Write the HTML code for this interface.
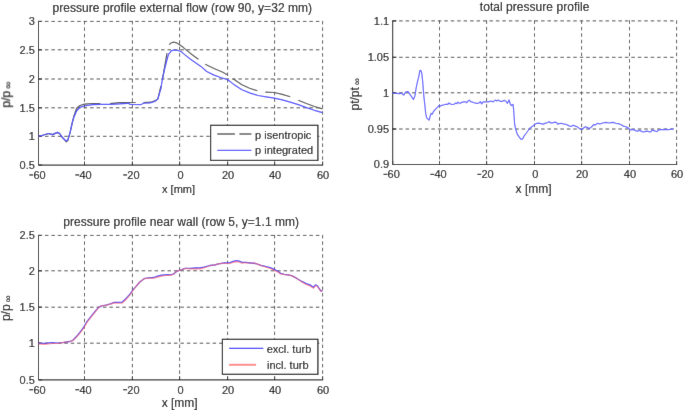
<!DOCTYPE html>
<html><head><meta charset="utf-8"><style>
html,body{margin:0;padding:0;background:#fff;}
svg{display:block;will-change:transform;}
.t{font-family:"Liberation Sans", sans-serif;font-size:11px;fill:#000;stroke:#000;stroke-width:0.12px;}
.ti{font-family:"Liberation Sans", sans-serif;font-size:12px;fill:#000;stroke:#000;stroke-width:0.12px;}
.yl{font-family:"Liberation Sans", sans-serif;font-size:12px;fill:#000;stroke:#000;stroke-width:0.12px;}
.g{stroke:#4a4a4a;stroke-width:1;stroke-dasharray:3.5 2.95;fill:none;}
.a{stroke:#000;stroke-width:1;fill:none;}
</style></head><body>
<svg width="685" height="410" viewBox="0 0 685 410">
<defs><filter id="bl" x="0" y="0" width="685" height="410" filterUnits="userSpaceOnUse"><feConvolveMatrix order="3" kernelMatrix="0.0049 0.0602 0.0049 0.0602 0.7396 0.0602 0.0049 0.0602 0.0049" edgeMode="duplicate"/></filter></defs>
<g filter="url(#bl)">
<rect width="685" height="410" fill="#fff"/>
<line x1="84.5" y1="20.9" x2="84.5" y2="165.1" class="g"/>
<line x1="132.4" y1="20.9" x2="132.4" y2="165.1" class="g"/>
<line x1="179.6" y1="20.9" x2="179.6" y2="165.1" class="g"/>
<line x1="227.6" y1="20.9" x2="227.6" y2="165.1" class="g"/>
<line x1="274.6" y1="20.9" x2="274.6" y2="165.1" class="g"/>
<line x1="322.6" y1="20.9" x2="322.6" y2="165.1" class="g"/>
<line x1="38.5" y1="136.3" x2="322.6" y2="136.3" class="g"/>
<line x1="38.5" y1="107.8" x2="322.6" y2="107.8" class="g"/>
<line x1="38.5" y1="79" x2="322.6" y2="79" class="g"/>
<line x1="38.5" y1="49.8" x2="322.6" y2="49.8" class="g"/>
<line x1="38.5" y1="21.4" x2="322.6" y2="21.4" class="g"/>
<line x1="38.5" y1="165.1" x2="38.5" y2="161.5" class="a"/>
<line x1="84.5" y1="165.1" x2="84.5" y2="161.5" class="a"/>
<line x1="132.4" y1="165.1" x2="132.4" y2="161.5" class="a"/>
<line x1="179.6" y1="165.1" x2="179.6" y2="161.5" class="a"/>
<line x1="227.6" y1="165.1" x2="227.6" y2="161.5" class="a"/>
<line x1="274.6" y1="165.1" x2="274.6" y2="161.5" class="a"/>
<line x1="322.6" y1="165.1" x2="322.6" y2="161.5" class="a"/>
<line x1="38.5" y1="165.1" x2="42.1" y2="165.1" class="a"/>
<line x1="38.5" y1="136.3" x2="42.1" y2="136.3" class="a"/>
<line x1="38.5" y1="107.8" x2="42.1" y2="107.8" class="a"/>
<line x1="38.5" y1="79" x2="42.1" y2="79" class="a"/>
<line x1="38.5" y1="49.8" x2="42.1" y2="49.8" class="a"/>
<line x1="38.5" y1="21.4" x2="42.1" y2="21.4" class="a"/>
<path d="M38.5 20.9V165.1H323.1" class="a"/>
<text x="45.65" y="178.9" text-anchor="end" class="t">60</text>
<rect x="29.3" y="174.4" width="3.9" height="1.1" fill="#000"/>
<text x="91.65" y="178.9" text-anchor="end" class="t">40</text>
<rect x="75.3" y="174.4" width="3.9" height="1.1" fill="#000"/>
<text x="139.55" y="178.9" text-anchor="end" class="t">20</text>
<rect x="123.2" y="174.4" width="3.9" height="1.1" fill="#000"/>
<text x="180.5" y="178.9" text-anchor="middle" class="t">0</text>
<text x="228" y="178.9" text-anchor="middle" class="t">20</text>
<text x="275" y="178.9" text-anchor="middle" class="t">40</text>
<text x="323" y="178.9" text-anchor="middle" class="t">60</text>
<text x="34.9" y="168.8" text-anchor="end" class="t">0.5</text>
<text x="34.9" y="140" text-anchor="end" class="t">1</text>
<text x="34.9" y="111.5" text-anchor="end" class="t">1.5</text>
<text x="34.9" y="82.7" text-anchor="end" class="t">2</text>
<text x="34.9" y="53.5" text-anchor="end" class="t">2.5</text>
<text x="34.9" y="25.1" text-anchor="end" class="t">3</text>
<text x="178.55" y="193.1" text-anchor="middle" class="t" style="font-size:11px">x [mm]</text>
<text x="52.5" y="11.8" textLength="259.6" lengthAdjust="spacing" class="ti">pressure profile external flow (row 90, y=32 mm)</text>
<polyline points="38.5,136.2 42.6,135.3 48.6,133.5 52.5,134.6 57.4,132.4 59.6,133.5 62.3,137.3 66.4,141.8 67.8,140.3 70,132.9 72.2,123 73.8,116.5 76.6,108.2 79.9,105.5 84.6,104.2 92.5,103.5 100.4,103.5 110,103.6 119.7,102.7 127.5,102.7 135.7,102.5 143.4,102.5 151.4,102.2 155.8,100.4 158,98.6 160,90 161,86 162.6,78.6 167,53.2 169.2,44.6 171,43 173,42.2 176,42.6 179.6,44.8 183.5,47.6 187,50.6 192.5,55 198.4,59.3 205.2,64.2 214,68.5 222.8,72.2 227.2,74.7 233.1,78.8 241.9,84.7 249.6,88.2 257.4,90.8 265.4,92.1 274.4,92.5 282.2,94.4 290.3,96.8 298.3,100.2 306.4,103.5 314.4,106.5 322.5,108.9" fill="none" stroke="#505050" stroke-width="1.2" stroke-dasharray="93.43 9.60 25.74 7.70 28.55 7.57 25.78 8.88 35.56 8.38 24.40 7.18 27.27 8.10 25.49 8.69 10000.00 0.00" stroke-linejoin="round"/>
<polyline points="38.5,136.2 42.6,135.3 48.6,133.5 52.5,134.6 57.4,132.4 59.6,133.5 62.3,137.3 66.2,141.1 67.8,140 70,132.9 72.2,123 73.8,117.5 76.6,111 79.9,107.3 84.3,106 92.5,104.6 101.3,104.3 110,104.3 119.7,103.9 127.5,103.4 128.4,103.1 130,104.5 132.8,104.5 140.5,104.7 143.7,103.2 150,102.9 154.8,101.5 157.8,99 159.6,92.9 160.9,88.7 162.4,79 164.4,70 166.5,61.5 168.5,54.4 171.6,50.7 174.6,49.9 177.7,50.5 180.7,51.3 184.4,54.4 190.5,59.3 196.6,63.5 200.9,66.4 206.7,71.5 214,75.1 221.4,77.8 227.5,79.5 233.1,83.9 241.9,89.8 250.3,93.1 258,95.5 266.1,96.8 274.4,98.2 282.2,99.8 290.3,102.2 298.3,104.6 306.4,107.6 314.4,110.3 322.5,112.7" fill="none" stroke="#4848ff" stroke-width="1.2" stroke-linejoin="round"/>
<rect x="210.6" y="125.3" width="107.3" height="35.1" fill="#fff" stroke="#000" stroke-width="1.15"/>
<line x1="217.3" y1="133.9" x2="251.4" y2="133.9" stroke="#848484" stroke-width="2" stroke-dasharray="17.6 4.5"/>
<text x="255.1" y="138.6" class="t">p isentropic</text>
<line x1="217.3" y1="150.3" x2="251.4" y2="150.3" stroke="#5050ff" stroke-width="1.2"/>
<text x="255.1" y="154.4" class="t">p integrated</text>
<text transform="translate(10.2 107.6) rotate(-90)" class="yl">p/p<tspan font-size="9.5" dx="2.2" dy="1.2">&#8734;</tspan></text>
<line x1="439.5" y1="20.4" x2="439.5" y2="164.5" class="g"/>
<line x1="486.6" y1="20.4" x2="486.6" y2="164.5" class="g"/>
<line x1="534.5" y1="20.4" x2="534.5" y2="164.5" class="g"/>
<line x1="581.6" y1="20.4" x2="581.6" y2="164.5" class="g"/>
<line x1="629.5" y1="20.4" x2="629.5" y2="164.5" class="g"/>
<line x1="676.6" y1="20.4" x2="676.6" y2="164.5" class="g"/>
<line x1="392.7" y1="129" x2="676.6" y2="129" class="g"/>
<line x1="392.7" y1="92.8" x2="676.6" y2="92.8" class="g"/>
<line x1="392.7" y1="57.3" x2="676.6" y2="57.3" class="g"/>
<line x1="392.7" y1="20.9" x2="676.6" y2="20.9" class="g"/>
<line x1="392.7" y1="164.5" x2="392.7" y2="160.9" class="a"/>
<line x1="439.5" y1="164.5" x2="439.5" y2="160.9" class="a"/>
<line x1="486.6" y1="164.5" x2="486.6" y2="160.9" class="a"/>
<line x1="534.5" y1="164.5" x2="534.5" y2="160.9" class="a"/>
<line x1="581.6" y1="164.5" x2="581.6" y2="160.9" class="a"/>
<line x1="629.5" y1="164.5" x2="629.5" y2="160.9" class="a"/>
<line x1="676.6" y1="164.5" x2="676.6" y2="160.9" class="a"/>
<line x1="392.7" y1="164.5" x2="396.3" y2="164.5" class="a"/>
<line x1="392.7" y1="129" x2="396.3" y2="129" class="a"/>
<line x1="392.7" y1="92.8" x2="396.3" y2="92.8" class="a"/>
<line x1="392.7" y1="57.3" x2="396.3" y2="57.3" class="a"/>
<line x1="392.7" y1="20.9" x2="396.3" y2="20.9" class="a"/>
<path d="M392.7 20.4V164.5H677.1" class="a"/>
<text x="399.85" y="178.3" text-anchor="end" class="t">60</text>
<rect x="383.5" y="173.8" width="3.9" height="1.1" fill="#000"/>
<text x="446.65" y="178.3" text-anchor="end" class="t">40</text>
<rect x="430.3" y="173.8" width="3.9" height="1.1" fill="#000"/>
<text x="493.75" y="178.3" text-anchor="end" class="t">20</text>
<rect x="477.4" y="173.8" width="3.9" height="1.1" fill="#000"/>
<text x="535.4" y="178.3" text-anchor="middle" class="t">0</text>
<text x="582" y="178.3" text-anchor="middle" class="t">20</text>
<text x="629.9" y="178.3" text-anchor="middle" class="t">40</text>
<text x="677" y="178.3" text-anchor="middle" class="t">60</text>
<text x="389.1" y="168.2" text-anchor="end" class="t">0.9</text>
<text x="389.1" y="132.7" text-anchor="end" class="t">0.95</text>
<text x="389.1" y="96.5" text-anchor="end" class="t">1</text>
<text x="389.1" y="61" text-anchor="end" class="t">1.05</text>
<text x="389.1" y="24.6" text-anchor="end" class="t">1.1</text>
<text x="533.55" y="192.6" text-anchor="middle" class="t" style="font-size:12px">x [mm]</text>
<text x="479.8" y="11.3" textLength="109.6" lengthAdjust="spacing" class="ti">total pressure profile</text>
<polyline points="392.4,93.2 395.9,93.4 399.8,93.7 401.7,93.2 403.7,95.1 405.6,92.2 408,91.7 409.5,93.7 411.5,96.6 413.4,99.5 414.9,96.1 415.9,89.3 417.3,82.4 418.8,76.6 419.8,70.7 420.7,70.2 421.7,72.7 422.7,81.5 423.8,95.9 424.8,104.6 425.7,113.4 426.7,117.8 428.2,119.3 429.1,120.2 430.1,116.3 431.1,113.4 432.2,114.2 433.5,111.5 435.3,109.4 437.6,107.1 439.1,105.3 440.2,106.2 441.7,105.3 444,104.8 445.8,104.2 447.5,104.5 449,103 450.1,103.9 452.2,104.5 453.9,104.3 455.7,103 456.9,103.6 458,102.1 459.8,103.6 461.5,102.4 463.9,101.8 465.6,101.8 466.8,102.7 468.5,100.7 469.4,100.2 470.6,101.6 472.7,102.2 474.4,102.8 476.8,103.3 478.8,103.1 480.3,101.6 481.7,103.9 483.2,101.9 485.5,101.9 487.9,101.9 490.2,101.3 491.4,101 493.1,101.9 495.2,100.1 496.6,101 498.1,100.1 500.1,101.3 502.5,101.3 504.2,100.4 505.7,101 507.4,103.3 509,99.9 510.2,103.8 511.3,105.5 513,104.4 513.5,108.3 514.1,116.2 514.6,124 515.8,129.6 517.5,134.7 519.1,136.9 520.8,139.2 522.5,139.2 524.2,135.8 526.4,133 528.2,130.5 529.8,128.3 532.1,126.6 534.4,124.8 536.8,123.3 538.5,123.1 540.8,123.6 543.2,124.2 545.5,123.1 547.9,122.5 549.3,121.6 550.5,122.8 552.5,122.8 554.9,122.2 556.6,122.5 557.5,124.2 558.9,123.6 561.3,123.3 563,123.9 565.4,124.2 567.8,125.1 569.5,126.2 571.3,126.5 573,125.3 574.8,125.9 577.1,126.8 578.8,128 581.2,129.4 582.9,128.6 585.3,126.8 587,127.4 589.4,128.6 591.7,126.8 593.7,124.5 595.2,125.1 597.5,123.3 599.3,123.9 601,123.6 602.8,123 604.5,122.7 606.3,122.4 608.7,123 611,122.7 613.3,122.4 615.7,123.3 618.6,123.6 620.4,124.5 621.5,124.8 623.3,126.2 625,126.5 626.8,127.1 628.5,128.3 629.7,129.4 631.4,130 633.2,129.4 635.5,130.6 637.9,131.2 639.9,130.3 641.8,131.7 644.1,132 646.4,131.1 648.8,131.7 650.5,132 652.3,130.2 654.6,130.8 656.9,131.7 658.7,129.9 661,129.6 663.4,129.6 665.7,129.3 668,129.6 670.4,129.3 672.7,128.8 673.6,129.1" fill="none" stroke="#6060ff" stroke-width="1.2" stroke-linejoin="round"/>
<text transform="translate(359.2 110.5) rotate(-90)" class="yl">pt/pt<tspan font-size="9.5" dx="2.2" dy="1.2">&#8734;</tspan></text>
<line x1="84.5" y1="234.9" x2="84.5" y2="379.9" class="g"/>
<line x1="132.4" y1="234.9" x2="132.4" y2="379.9" class="g"/>
<line x1="179.6" y1="234.9" x2="179.6" y2="379.9" class="g"/>
<line x1="227.6" y1="234.9" x2="227.6" y2="379.9" class="g"/>
<line x1="274.6" y1="234.9" x2="274.6" y2="379.9" class="g"/>
<line x1="322.6" y1="234.9" x2="322.6" y2="379.9" class="g"/>
<line x1="38.5" y1="343.2" x2="322.6" y2="343.2" class="g"/>
<line x1="38.5" y1="307.2" x2="322.6" y2="307.2" class="g"/>
<line x1="38.5" y1="270.8" x2="322.6" y2="270.8" class="g"/>
<line x1="38.5" y1="235.4" x2="322.6" y2="235.4" class="g"/>
<line x1="38.5" y1="379.9" x2="38.5" y2="376.3" class="a"/>
<line x1="84.5" y1="379.9" x2="84.5" y2="376.3" class="a"/>
<line x1="132.4" y1="379.9" x2="132.4" y2="376.3" class="a"/>
<line x1="179.6" y1="379.9" x2="179.6" y2="376.3" class="a"/>
<line x1="227.6" y1="379.9" x2="227.6" y2="376.3" class="a"/>
<line x1="274.6" y1="379.9" x2="274.6" y2="376.3" class="a"/>
<line x1="322.6" y1="379.9" x2="322.6" y2="376.3" class="a"/>
<line x1="38.5" y1="379.9" x2="42.1" y2="379.9" class="a"/>
<line x1="38.5" y1="343.2" x2="42.1" y2="343.2" class="a"/>
<line x1="38.5" y1="307.2" x2="42.1" y2="307.2" class="a"/>
<line x1="38.5" y1="270.8" x2="42.1" y2="270.8" class="a"/>
<line x1="38.5" y1="235.4" x2="42.1" y2="235.4" class="a"/>
<path d="M38.5 234.9V379.9H323.1" class="a"/>
<text x="45.65" y="393.7" text-anchor="end" class="t">60</text>
<rect x="29.3" y="389.2" width="3.9" height="1.1" fill="#000"/>
<text x="91.65" y="393.7" text-anchor="end" class="t">40</text>
<rect x="75.3" y="389.2" width="3.9" height="1.1" fill="#000"/>
<text x="139.55" y="393.7" text-anchor="end" class="t">20</text>
<rect x="123.2" y="389.2" width="3.9" height="1.1" fill="#000"/>
<text x="180.5" y="393.7" text-anchor="middle" class="t">0</text>
<text x="228" y="393.7" text-anchor="middle" class="t">20</text>
<text x="275" y="393.7" text-anchor="middle" class="t">40</text>
<text x="323" y="393.7" text-anchor="middle" class="t">60</text>
<text x="34.9" y="383.6" text-anchor="end" class="t">0.5</text>
<text x="34.9" y="346.9" text-anchor="end" class="t">1</text>
<text x="34.9" y="310.9" text-anchor="end" class="t">1.5</text>
<text x="34.9" y="274.5" text-anchor="end" class="t">2</text>
<text x="34.9" y="239.1" text-anchor="end" class="t">2.5</text>
<text x="179.65" y="407.2" text-anchor="middle" class="t" style="font-size:12px">x [mm]</text>
<text x="63.2" y="225.8" textLength="235.8" lengthAdjust="spacing" class="ti">pressure profile near wall (row 5, y=1.1 mm)</text>
<polyline points="38.5,343.4 44.8,343.4 52.1,342.7 58,343.1 63.8,342.4 69.7,341.5 72.6,340.5 76.2,336.8 79.9,332.4 83.6,327.3 86.5,322.2 88.7,319.3 92.3,314.9 95.9,310.5 98.8,307.1 101.7,305.8 106.1,305.1 110.5,303.9 114.1,302.4 117.8,302.4 122.2,302.1 125.9,298.8 129.5,294.8 132.4,290.7 135.4,287.1 139.8,282 144.1,278.7 148.9,277.8 153.8,277.5 157.7,276.1 161.6,275.2 167.4,274.6 170.4,274.9 173.3,274.2 176.2,271.7 179.1,270.5 182.1,269.5 185,268.3 190.9,268.3 195.7,268 200,267.9 203.9,267.2 209.8,265.5 214.6,265 219.5,263.7 224.4,263 229.3,262.8 233.2,261.4 236.6,260.6 239,261.1 242,262.4 245.9,262.4 250.7,263 255.6,263.5 261.1,265.4 267.2,266.8 270.9,267.8 274.5,269.6 278.2,271.5 280.6,273.3 284.3,274.3 287.9,274.8 291.6,275.7 296.5,278.2 301.3,281.2 306.2,283.7 309.9,284.9 313.5,287.3 315.4,284.9 317.2,285.5 319.6,289.1 320.9,291 322.5,290.6" fill="none" stroke="#4040ff" stroke-width="1.3" stroke-linejoin="round"/>
<polyline points="38.5,343.92 44.8,344.36 52.1,343.52 58,343.42 63.8,342.34 69.7,341.5 72.6,340.7 76.2,337.32 79.9,333.23 83.6,328.29 86.5,323.18 88.7,320.19 92.3,315.53 95.9,310.8 98.8,307.17 101.7,305.73 106.1,305.04 110.5,304.12 114.1,302.94 117.8,303.24 122.2,303.1 125.9,299.72 129.5,295.47 132.4,291.11 135.4,287.25 139.8,281.92 144.1,278.66 148.9,278.08 153.8,278.21 157.7,277.05 161.6,276.19 167.4,275.25 170.4,275.28 173.3,274.34 176.2,271.66 179.1,270.4 182.1,269.47 185,268.45 190.9,268.96 195.7,268.96 200,268.87 203.9,267.95 209.8,265.73 214.6,264.94 219.5,263.66 224.4,263.29 229.3,263.52 233.2,262.36 236.6,261.59 239,262.01 242,263.12 245.9,262.77 250.7,263 255.6,263.41 261.1,265.6 267.2,267.54 270.9,268.76 274.5,270.59 278.2,272.33 280.6,273.94 284.3,274.61 287.9,274.83 291.6,275.6 296.5,278.24 301.3,281.62 306.2,284.53 309.9,285.89 313.5,288.25 315.4,285.76 317.2,286.23 319.6,289.63 320.9,291.41 322.5,290.87" fill="none" stroke="#ff6070" stroke-opacity="0.7" stroke-width="1.2" stroke-linejoin="round"/>
<rect x="222.4" y="339.3" width="95.5" height="35" fill="#fff" stroke="#000" stroke-width="1.15"/>
<line x1="229" y1="348.4" x2="263.3" y2="348.4" stroke="#3030ff" stroke-width="1.2"/>
<text x="266.7" y="352.8" class="t">excl. turb</text>
<line x1="229" y1="364.8" x2="256.1" y2="364.8" stroke="#ff8a8a" stroke-width="2"/>
<text x="267" y="368.6" class="t">incl. turb</text>
<text transform="translate(10.2 321.1) rotate(-90)" class="yl">p/p<tspan font-size="9.5" dx="2.2" dy="1.2">&#8734;</tspan></text>
</g>
</svg>
</body></html>
